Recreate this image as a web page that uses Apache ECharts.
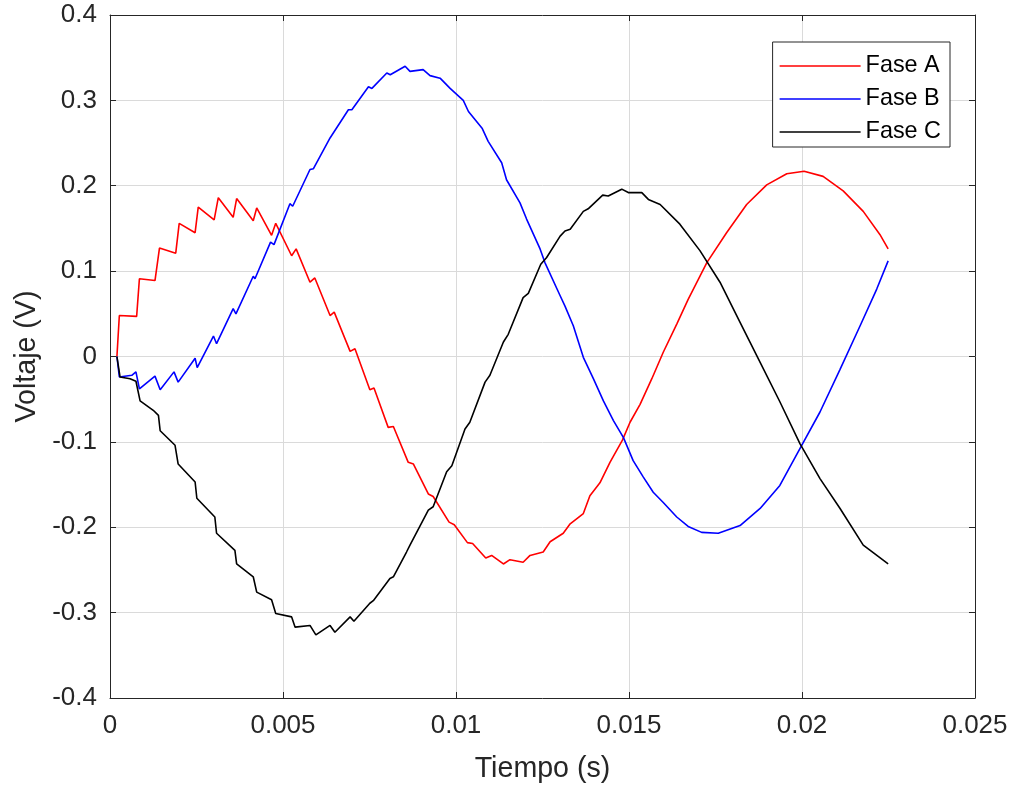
<!DOCTYPE html>
<html>
<head>
<meta charset="utf-8">
<script src="https://cdn.jsdelivr.net/npm/echarts@6/dist/echarts.min.js"></script>
<style>
  html, body { margin: 0; padding: 0; background: #ffffff; }
  #chart { width: 1015px; height: 789px; }
</style>
</head>
<body>
<div id="chart"></div>
<script>
// Three-phase voltage traces (time in s, voltage in V)
const seriesNames = ['Fase A', 'Fase B', 'Fase C'];

const tA = [0.00020,0.00027,0.00077,0.00085,0.00130,0.00143,0.00190,0.00200,0.00246,0.00255,
  0.00301,0.00313,0.00356,0.00366,0.00414,0.00424,0.00467,0.00479,0.00525,0.00538,
  0.00578,0.00592,0.00636,0.00648,0.00694,0.00708,0.00751,0.00763,0.00804,0.00819,
  0.00862,0.00877,0.00920,0.00934,0.00980,0.00995,0.01033,0.01048,0.01086,0.01103,
  0.01137,0.01156,0.01194,0.01214,0.01252,0.01272,0.01310,0.01330,0.01368,0.01387,
  0.01416,0.01445,0.01481,0.01503,0.01532,0.01566,0.01599,0.01638,0.01671,0.01725,
  0.01782,0.01840,0.01898,0.01956,0.02006,0.02061,0.02119,0.02177,0.02225,0.02249];
const vA = [0.000,0.048,0.047,0.091,0.089,0.127,0.121,0.156,0.145,0.175,
  0.160,0.186,0.163,0.185,0.159,0.174,0.142,0.156,0.118,0.126,
  0.087,0.092,0.048,0.052,0.006,0.009,-0.039,-0.037,-0.083,-0.082,
  -0.124,-0.126,-0.161,-0.164,-0.194,-0.197,-0.218,-0.219,-0.236,-0.233,
  -0.243,-0.238,-0.241,-0.233,-0.229,-0.217,-0.207,-0.196,-0.184,-0.163,
  -0.148,-0.124,-0.098,-0.077,-0.056,-0.026,0.005,0.038,0.067,0.110,
  0.145,0.178,0.201,0.214,0.217,0.211,0.194,0.170,0.143,0.126];

const tB = [0.00020,0.00027,0.00063,0.00075,0.00085,0.00130,0.00145,0.00185,0.00197,0.00246,
  0.00252,0.00299,0.00308,0.00356,0.00364,0.00414,0.00419,0.00464,0.00474,0.00520,
  0.00528,0.00578,0.00588,0.00636,0.00641,0.00689,0.00699,0.00747,0.00757,0.00800,
  0.00810,0.00853,0.00867,0.00905,0.00925,0.00954,0.00983,0.01021,0.01036,0.01076,
  0.01093,0.01132,0.01146,0.01185,0.01204,0.01243,0.01257,0.01300,0.01315,0.01339,
  0.01368,0.01397,0.01426,0.01455,0.01484,0.01512,0.01541,0.01570,0.01599,0.01638,
  0.01671,0.01710,0.01758,0.01821,0.01879,0.01936,0.01994,0.02052,0.02110,0.02168,
  0.02216,0.02249];
const vB = [0.000,-0.024,-0.022,-0.018,-0.038,-0.023,-0.039,-0.018,-0.030,-0.002,
  -0.013,0.024,0.015,0.056,0.050,0.094,0.091,0.134,0.131,0.179,
  0.176,0.219,0.220,0.256,0.258,0.289,0.289,0.316,0.314,0.332,
  0.330,0.340,0.334,0.336,0.329,0.326,0.314,0.300,0.287,0.267,
  0.252,0.227,0.207,0.180,0.161,0.126,0.110,0.072,0.059,0.036,
  -0.001,-0.026,-0.052,-0.075,-0.095,-0.122,-0.141,-0.159,-0.171,-0.188,
  -0.199,-0.206,-0.207,-0.198,-0.178,-0.151,-0.108,-0.065,-0.015,0.036,
  0.079,0.112];

const tC = [0.00020,0.00029,0.00058,0.00075,0.00087,0.00125,0.00140,0.00145,0.00188,0.00197,
  0.00246,0.00251,0.00303,0.00308,0.00361,0.00366,0.00414,0.00424,0.00467,0.00479,
  0.00525,0.00535,0.00578,0.00595,0.00636,0.00650,0.00694,0.00705,0.00751,0.00761,
  0.00809,0.00819,0.00857,0.00867,0.00920,0.00934,0.00973,0.00988,0.01026,0.01040,
  0.01084,0.01098,0.01137,0.01151,0.01194,0.01209,0.01245,0.01262,0.01301,0.01315,
  0.01330,0.01368,0.01382,0.01424,0.01440,0.01479,0.01498,0.01537,0.01556,0.01590,
  0.01647,0.01705,0.01763,0.01821,0.01879,0.01936,0.01994,0.02052,0.02110,0.02177,
  0.02249];
const vC = [0.000,-0.024,-0.026,-0.029,-0.052,-0.063,-0.069,-0.087,-0.104,-0.126,
  -0.147,-0.166,-0.188,-0.207,-0.227,-0.243,-0.258,-0.276,-0.285,-0.301,
  -0.305,-0.317,-0.315,-0.326,-0.315,-0.323,-0.305,-0.310,-0.289,-0.286,
  -0.260,-0.258,-0.229,-0.221,-0.180,-0.176,-0.135,-0.128,-0.085,-0.077,
  -0.030,-0.022,0.017,0.026,0.069,0.074,0.108,0.116,0.141,0.147,
  0.149,0.170,0.173,0.189,0.188,0.196,0.192,0.192,0.184,0.178,
  0.155,0.124,0.087,0.040,-0.007,-0.053,-0.102,-0.143,-0.178,-0.221,
  -0.243];

const xTicks = ['0', '0.005', '0.01', '0.015', '0.02', '0.025'];
const yTicks = ['-0.4', '-0.3', '-0.2', '-0.1', '0', '0.1', '0.2', '0.3', '0.4'];

const colors = ['#ff0000', '#0000ff', '#000000'];
const FONT = '"Liberation Sans", Arial, Helvetica, sans-serif';
const AXIS = '#262626';
const GRID = '#dadada';

function pairs(t, v) { return t.map((x, i) => [x, v[i]]); }

const chart = echarts.init(document.getElementById('chart'), null, { renderer: 'canvas' });

// top and right axes only close the box and repeat the inward ticks
const boxAxis = {
  show: true,
  axisLine: { show: true, onZero: false, lineStyle: { color: AXIS, width: 1 } },
  axisTick: { show: true, inside: true, length: 6, lineStyle: { color: AXIS } },
  axisLabel: { show: false },
  splitLine: { show: false }
};

chart.setOption({
  animation: false,
  backgroundColor: '#ffffff',
  grid: { left: 110, right: 40, top: 15, bottom: 89, containLabel: false },
  legend: {
    data: seriesNames,
    orient: 'vertical',
    right: 65,
    top: 42,
    icon: 'rect',
    itemWidth: 81,
    itemHeight: 1.5,
    itemGap: 9,
    padding: [12, 9, 3, 7],
    borderColor: AXIS,
    borderWidth: 1,
    borderRadius: 0,
    backgroundColor: '#ffffff',
    textStyle: { fontFamily: FONT, fontSize: 23.4, color: '#000000', lineHeight: 24 }
  },
  xAxis: [{
    type: 'value',
    min: 0, max: 0.025, interval: 0.005,
    name: 'Tiempo (s)',
    nameLocation: 'middle',
    nameGap: 57,
    nameTextStyle: { fontFamily: FONT, fontSize: 28.6, color: AXIS },
    axisLine: { show: true, onZero: false, lineStyle: { color: AXIS, width: 1 } },
    axisTick: { show: true, inside: true, length: 6, lineStyle: { color: AXIS } },
    axisLabel: {
      fontFamily: FONT, fontSize: 26, color: AXIS, margin: 15,
      formatter: (val) => xTicks[Math.round(val / 0.005)]
    },
    splitLine: { show: true, lineStyle: { color: GRID, width: 1 } }
  }, Object.assign({ type: 'value', position: 'top', min: 0, max: 0.025, interval: 0.005 }, boxAxis)],
  yAxis: [{
    type: 'value',
    min: -0.4, max: 0.4, interval: 0.1,
    name: 'Voltaje (V)',
    nameLocation: 'middle',
    nameGap: 66,
    nameTextStyle: { fontFamily: FONT, fontSize: 28.6, color: AXIS },
    axisLine: { show: true, onZero: false, lineStyle: { color: AXIS, width: 1 } },
    axisTick: { show: true, inside: true, length: 6, lineStyle: { color: AXIS } },
    axisLabel: {
      fontFamily: FONT, fontSize: 26, color: AXIS, margin: 13,
      formatter: (val) => yTicks[Math.round((val + 0.4) / 0.1)]
    },
    splitLine: { show: true, lineStyle: { color: GRID, width: 1 } }
  }, Object.assign({ type: 'value', position: 'right', min: -0.4, max: 0.4, interval: 0.1 }, boxAxis)],
  series: [
    { name: seriesNames[0], type: 'line', data: pairs(tA, vA) },
    { name: seriesNames[1], type: 'line', data: pairs(tB, vB) },
    { name: seriesNames[2], type: 'line', data: pairs(tC, vC) }
  ].map((s, i) => Object.assign(s, {
    showSymbol: false,
    symbol: 'none',
    color: colors[i],
    lineStyle: { color: colors[i], width: 1.6 },
    emphasis: { disabled: true }
  }))
});
</script>
</body>
</html>
